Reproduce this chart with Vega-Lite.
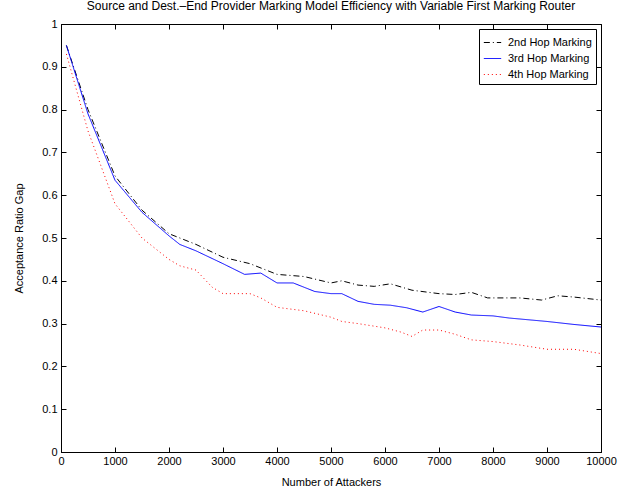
{
  "$schema": "https://vega.github.io/schema/vega-lite/v6.json",
  "width": 540,
  "height": 428,
  "autosize": {"type": "none"},
  "padding": {"left": 61, "top": 24, "right": 17, "bottom": 45},
  "background": "white",
  "title": {"text": "Source and Dest.\u2013End Provider Marking Model Efficiency with Variable First Marking Router", "font": "Liberation Sans", "fontSize": 12, "fontWeight": "normal", "offset": 5, "color": "black"},
  "config": {
    "view": {"stroke": "black", "strokeWidth": 1},
    "axis": {"labelFont": "Liberation Sans", "titleFont": "Liberation Sans", "labelFontSize": 11, "titleFontSize": 11, "titleFontWeight": "normal", "labelColor": "black", "titleColor": "black", "tickColor": "black", "domainColor": "black", "grid": false}
  },
  "data": {"values": [
    {"x":100,"y":0.95,"s":"2nd Hop Marking"},{"x":500,"y":0.80,"s":"2nd Hop Marking"},{"x":1000,"y":0.645,"s":"2nd Hop Marking"},{"x":1500,"y":0.565,"s":"2nd Hop Marking"},{"x":2000,"y":0.51,"s":"2nd Hop Marking"},{"x":2500,"y":0.485,"s":"2nd Hop Marking"},{"x":3000,"y":0.455,"s":"2nd Hop Marking"},{"x":3500,"y":0.44,"s":"2nd Hop Marking"},{"x":4000,"y":0.415,"s":"2nd Hop Marking"},{"x":4500,"y":0.41,"s":"2nd Hop Marking"},{"x":5000,"y":0.395,"s":"2nd Hop Marking"},{"x":5200,"y":0.40,"s":"2nd Hop Marking"},{"x":5500,"y":0.39,"s":"2nd Hop Marking"},{"x":5800,"y":0.387,"s":"2nd Hop Marking"},{"x":6100,"y":0.393,"s":"2nd Hop Marking"},{"x":6500,"y":0.378,"s":"2nd Hop Marking"},{"x":7000,"y":0.37,"s":"2nd Hop Marking"},{"x":7300,"y":0.368,"s":"2nd Hop Marking"},{"x":7600,"y":0.373,"s":"2nd Hop Marking"},{"x":7900,"y":0.36,"s":"2nd Hop Marking"},{"x":8500,"y":0.36,"s":"2nd Hop Marking"},{"x":8900,"y":0.355,"s":"2nd Hop Marking"},{"x":9200,"y":0.365,"s":"2nd Hop Marking"},{"x":9500,"y":0.362,"s":"2nd Hop Marking"},{"x":10000,"y":0.355,"s":"2nd Hop Marking"},
    {"x":100,"y":0.95,"s":"3rd Hop Marking"},{"x":500,"y":0.79,"s":"3rd Hop Marking"},{"x":1000,"y":0.635,"s":"3rd Hop Marking"},{"x":1500,"y":0.56,"s":"3rd Hop Marking"},{"x":2000,"y":0.505,"s":"3rd Hop Marking"},{"x":2200,"y":0.485,"s":"3rd Hop Marking"},{"x":2500,"y":0.47,"s":"3rd Hop Marking"},{"x":3000,"y":0.44,"s":"3rd Hop Marking"},{"x":3400,"y":0.415,"s":"3rd Hop Marking"},{"x":3700,"y":0.418,"s":"3rd Hop Marking"},{"x":4000,"y":0.395,"s":"3rd Hop Marking"},{"x":4300,"y":0.395,"s":"3rd Hop Marking"},{"x":4700,"y":0.375,"s":"3rd Hop Marking"},{"x":5000,"y":0.37,"s":"3rd Hop Marking"},{"x":5200,"y":0.37,"s":"3rd Hop Marking"},{"x":5500,"y":0.352,"s":"3rd Hop Marking"},{"x":5800,"y":0.345,"s":"3rd Hop Marking"},{"x":6100,"y":0.343,"s":"3rd Hop Marking"},{"x":6400,"y":0.337,"s":"3rd Hop Marking"},{"x":6700,"y":0.327,"s":"3rd Hop Marking"},{"x":7000,"y":0.34,"s":"3rd Hop Marking"},{"x":7300,"y":0.327,"s":"3rd Hop Marking"},{"x":7600,"y":0.32,"s":"3rd Hop Marking"},{"x":8000,"y":0.318,"s":"3rd Hop Marking"},{"x":8300,"y":0.313,"s":"3rd Hop Marking"},{"x":9000,"y":0.305,"s":"3rd Hop Marking"},{"x":9500,"y":0.298,"s":"3rd Hop Marking"},{"x":10000,"y":0.292,"s":"3rd Hop Marking"},
    {"x":100,"y":0.93,"s":"4th Hop Marking"},{"x":500,"y":0.75,"s":"4th Hop Marking"},{"x":1000,"y":0.58,"s":"4th Hop Marking"},{"x":1500,"y":0.50,"s":"4th Hop Marking"},{"x":2000,"y":0.45,"s":"4th Hop Marking"},{"x":2200,"y":0.435,"s":"4th Hop Marking"},{"x":2500,"y":0.425,"s":"4th Hop Marking"},{"x":2800,"y":0.385,"s":"4th Hop Marking"},{"x":3000,"y":0.37,"s":"4th Hop Marking"},{"x":3500,"y":0.37,"s":"4th Hop Marking"},{"x":3700,"y":0.36,"s":"4th Hop Marking"},{"x":4000,"y":0.338,"s":"4th Hop Marking"},{"x":4500,"y":0.33,"s":"4th Hop Marking"},{"x":5000,"y":0.315,"s":"4th Hop Marking"},{"x":5200,"y":0.305,"s":"4th Hop Marking"},{"x":5500,"y":0.30,"s":"4th Hop Marking"},{"x":6000,"y":0.29,"s":"4th Hop Marking"},{"x":6300,"y":0.28,"s":"4th Hop Marking"},{"x":6500,"y":0.27,"s":"4th Hop Marking"},{"x":6700,"y":0.285,"s":"4th Hop Marking"},{"x":7000,"y":0.285,"s":"4th Hop Marking"},{"x":7300,"y":0.275,"s":"4th Hop Marking"},{"x":7600,"y":0.262,"s":"4th Hop Marking"},{"x":8000,"y":0.258,"s":"4th Hop Marking"},{"x":8500,"y":0.25,"s":"4th Hop Marking"},{"x":9000,"y":0.24,"s":"4th Hop Marking"},{"x":9500,"y":0.24,"s":"4th Hop Marking"},{"x":10000,"y":0.23,"s":"4th Hop Marking"}
  ]},
  "layer": [
    {
      "mark": {"type": "line", "strokeWidth": 1, "clip": true},
      "encoding": {
        "x": {"field": "x", "type": "quantitative", "scale": {"domain": [0, 10000], "nice": false},
          "axis": {"orient": "bottom", "title": "Number of Attackers", "values": [0,1000,2000,3000,4000,5000,6000,7000,8000,9000,10000], "format": "d", "tickSize": -5, "labelPadding": 8, "titlePadding": 10, "labelFlush": false, "labelOverlap": false}},
        "y": {"field": "y", "type": "quantitative", "scale": {"domain": [0, 1], "nice": false},
          "axis": {"orient": "left", "title": "Acceptance Ratio Gap", "values": [0,0.1,0.2,0.3,0.4,0.5,0.6,0.7,0.8,0.9,1], "format": "~g", "tickSize": -5, "labelPadding": 9, "titlePadding": 17, "labelFlush": false, "labelOverlap": false}},
        "color": {"field": "s", "type": "nominal", "scale": {"domain": ["2nd Hop Marking","3rd Hop Marking","4th Hop Marking"], "range": ["#000000","#0000ff","#ff0000"]},
          "legend": {"title": null, "orient": "top-right", "offset": 5, "labelFont": "Liberation Sans", "labelFontSize": 11, "labelColor": "black", "symbolType": "stroke", "symbolSize": 300, "symbolStrokeWidth": 1, "strokeColor": "black", "fillColor": "white", "padding": 4, "rowPadding": 1, "labelOffset": 6}},
        "strokeDash": {"field": "s", "type": "nominal", "scale": {"domain": ["2nd Hop Marking","3rd Hop Marking","4th Hop Marking"], "range": [[6,3,1,3],[1,0],[1,3]]}, "legend": {"title": null}}
      }
    },
    {
      "mark": {"type": "line", "opacity": 0},
      "encoding": {
        "x": {"field": "x", "type": "quantitative", "axis": {"orient": "top", "labels": false, "title": null, "domain": false, "values": [0,1000,2000,3000,4000,5000,6000,7000,8000,9000,10000], "tickSize": -5}},
        "y": {"field": "y", "type": "quantitative", "axis": {"orient": "right", "labels": false, "title": null, "domain": false, "values": [0,0.1,0.2,0.3,0.4,0.5,0.6,0.7,0.8,0.9,1], "tickSize": -5}}
      }
    }
  ]
}
